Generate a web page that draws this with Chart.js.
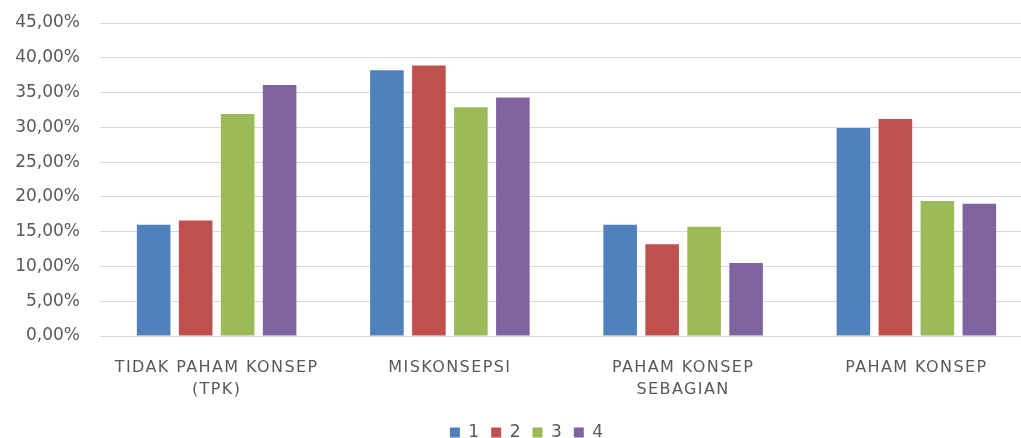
<!DOCTYPE html>
<html>
<head>
<meta charset="utf-8">
<script src="https://cdn.jsdelivr.net/npm/chart.js@4"></script>
<style>
  html, body { margin: 0; padding: 0; background: #fff; overflow: hidden; }
  #wrap { position: absolute; left: 0; top: 0; width: 1035px; height: 438px; }
</style>
</head>
<body>
<div id="wrap"><canvas id="c"></canvas></div>
<script>
// Categories of understanding level
const categories = [
  ['TIDAK PAHAM KONSEP', '(TPK)'],
  'MISKONSEPSI',
  ['PAHAM KONSEP', 'SEBAGIAN'],
  'PAHAM KONSEP'
];

// Percentages per group (series 1–4)
const series1 = [16.0, 38.2, 16.0, 29.9];
const series2 = [16.6, 38.9, 13.2, 31.2];
const series3 = [31.9, 32.9, 15.7, 19.4];
const series4 = [36.1, 34.3, 10.5, 19.0];

const seriesNames = ['1', '2', '3', '4'];
const seriesColors = ['#4F81BD', '#C0504D', '#9BBB59', '#8064A2'];

const yMax = 45;
const yStep = 5;

const fmtPct = v => v.toFixed(2).replace('.', ',') + '%';

const allSeries = [series1, series2, series3, series4];

// Wider letter spacing for the category labels, and a small shift of the legend
const labelTweaks = {
  id: 'labelTweaks',
  afterLayout(chart) {
    const lg = chart.legend;
    if (lg) { lg.left += 10; lg.right += 10; }
  },
  afterUpdate(chart) {
    const s = chart.scales.x;
    if (s && !s.__spaced) {
      const orig = s.drawLabels;
      s.drawLabels = function (area) {
        const ctx = this.ctx;
        ctx.save();
        ctx.letterSpacing = '1.4px';
        orig.call(this, area);
        ctx.restore();
      };
      s.__spaced = true;
    }
  }
};

new Chart(document.getElementById('c'), {
  type: 'bar',
  data: {
    labels: categories,
    datasets: allSeries.map((d, i) => ({
      label: seriesNames[i],
      data: d,
      backgroundColor: seriesColors[i],
      borderWidth: 0,
      categoryPercentage: 0.72,
      barPercentage: 0.8
    }))
  },
  plugins: [labelTweaks],
  options: {
    responsive: true,
    maintainAspectRatio: false,
    animation: false,
    layout: { padding: { left: 0, right: 2, top: 23, bottom: -13 } },
    plugins: {
      tooltip: { enabled: false },
      legend: {
        position: 'bottom',
        align: 'center',
        labels: {
          boxWidth: 10,
          boxHeight: 10,
          padding: 12,
          color: '#595959',
          font: { family: 'DejaVu Sans', size: 17 }
        }
      }
    },
    scales: {
      x: {
        afterFit: s => { s.height = 76; },
        grid: { display: false, drawTicks: false },
        border: { display: false },
        ticks: {
          color: '#595959',
          padding: 21,
          maxRotation: 0,
          autoSkip: false,
          font: { family: 'DejaVu Sans', size: 16, lineHeight: 1.375 }
        }
      },
      y: {
        min: 0,
        max: yMax,
        afterFit: s => { s.width = 100; s.paddingTop = 0; s.paddingBottom = 0; },
        grid: { color: '#d9d9d9', lineWidth: 1, drawTicks: false },
        border: { display: false },
        ticks: {
          stepSize: yStep,
          padding: 20,
          color: '#595959',
          font: { family: 'DejaVu Sans', size: 17 },
          callback: v => fmtPct(v)
        }
      }
    }
  }
});
</script>
</body>
</html>
